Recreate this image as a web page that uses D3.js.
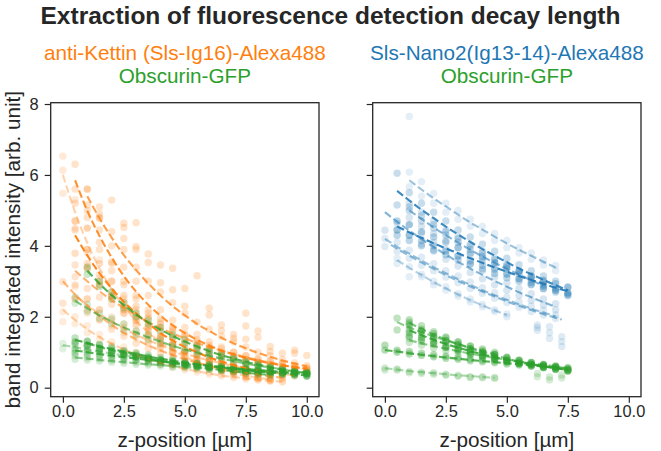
<!DOCTYPE html>
<html><head><meta charset="utf-8">
<script src="https://cdn.jsdelivr.net/npm/d3@7"></script>
<style>body{margin:0;background:#fff}svg{display:block}text{font-family:"Liberation Sans",Arial,Helvetica,sans-serif}</style>
</head><body><svg id="c" width="661" height="451"></svg>
<script>
// ---------------- DATA ----------------
const title = "Extraction of fluorescence detection decay length";
const leftTitles = ["anti-Kettin (Sls-Ig16)-Alexa488", "Obscurin-GFP"];
const rightTitles = ["Sls-Nano2(Ig13-14)-Alexa488", "Obscurin-GFP"];
const xLabel = "z-position [µm]";
const yLabel = "band integrated intensity [arb. unit]";
const xTicks = [0, 2.5, 5, 7.5, 10];
const yTicks = [0, 2, 4, 6, 8];
const zStep = 0.5;

// Left panel, anti-Kettin (orange): start z, fitted curve, bands (values every 0.5 µm)
const kettinStart = [0, 0.5, 1, 0.5, 0, 0, 0.5, 0.5];
const kettinFit = [
 [6.0,4.95,4.08,3.37,2.78,2.29,1.89,1.56,1.29,1.06,0.88,0.72,0.60,0.49,0.41,0.34,0.28,0.23],
 [5.85,4.99,4.28,3.67,3.15,2.71,2.34,2.03,1.76,1.54,1.35,1.19,1.05,0.94,0.84,0.76,0.69,0.63,0.58,0.53],
 [5.4,4.78,4.23,3.74,3.32,2.94,2.60,2.30,2.04,1.80,1.60,1.41,1.25,1.11,0.98,0.87,0.77,0.68,0.60],
 [4.3,3.73,3.23,2.8,2.42,2.1,1.82,1.54,1.33,1.15,1.0,0.85,0.74,0.64,0.55],
 [3.0,2.63,2.31,2.02,1.77,1.55,1.36,1.19,1.05,0.92,0.81,0.70,0.62,0.54,0.48,0.42,0.37,0.32,0.28],
 [2.2,1.91,1.65,1.43,1.24,1.08,0.93,0.81,0.70,0.61,0.53,0.46,0.40,0.34,0.30,0.26,0.22,0.19,0.17],
 [3.3,3.0,2.72,2.47,2.25,2.04,1.85,1.68,1.53,1.39,1.26,1.15,1.04,0.95,0.86,0.78,0.71,0.64,0.58,0.53],
 [2.6,2.33,2.08,1.86,1.67,1.49,1.34,1.20,1.07,0.96,0.86,0.77,0.69,0.61,0.55,0.49,0.44,0.39,0.35]
];
const kettinPts = [
 [[6.53,5.3,4.5,3.6,3.0,2.5,2.1,1.7,1.4,1.2,1.0,0.8,0.7,0.55,0.45,0.38,0.3,0.25],
  [6.13,4.7,3.8,3.2,2.6,2.1,1.75,1.45,1.2,0.98,0.8,0.68,0.55,0.46,0.38,0.3,0.26,0.2],
  [5.48,4.5,3.9,3.1,2.7,2.2,1.8,1.5,1.25,1.0,0.85,0.7,0.58,0.48,0.4,0.32,0.27,0.22]],
 [[6.3,5.6,4.8,4.0,3.4,3.0,2.6,2.2,1.9,1.7,1.5,1.3,1.15,1.0,0.9,0.8,0.75,0.68,0.62,0.56],
  [5.6,4.8,4.1,3.5,3.0,2.6,2.2,1.95,1.7,1.5,1.3,1.15,1.0,0.9,0.8,0.72,0.65,0.6,0.55,0.5],
  [5.2,4.5,3.9,3.3,2.9,2.5,2.1,1.85,1.6,1.4,1.25,1.1,0.95,0.85,0.78,0.7,0.62,0.57,0.52,0.48]],
 [[5.6,4.9,4.4,3.9,3.4,3.0,2.7,2.4,2.1,1.85,1.65,1.45,1.3,1.15,1.0,0.9,0.8,0.7,0.62],
  [5.15,5.1,5.29,4.52,3.98,3.77,3.46,3.37,2.8,3.16,2.24,1.77,1.5,2.1,1.6,1.16,0.97,1.06,0.91],
  [5.0,4.45,3.55,4.21,3.9,3.53,2.96,2.76,2.3,null,2.05,1.61,1.39,1.74,1.42,1.02,null,0.97,null],
  [null,4.78,null,4.64,4.65,null,null,null,null,null,null,null,null,1.37,null,null,null,null,null]],
 [[4.7,3.9,3.5,3.0,2.6,2.3,1.95,1.7,1.45,1.25,1.1,0.95,0.8,0.7,0.6],
  [4.45,3.5,3.0,2.6,2.3,2.0,1.7,1.45,1.25,1.05,0.9,0.78,0.68,0.58,0.5],
  [3.79,3.35,2.9,2.5,2.2,1.9,1.6,1.4,1.2,1.0,0.88,0.75,0.65,0.55,0.47]],
 [[2.99,2.9,2.5,2.2,1.9,1.7,1.5,1.3,1.15,1.0,0.9,0.78,0.68,0.6,0.52,0.46,0.4,0.35,0.3],
  [2.38,2.5,2.2,1.9,1.65,1.45,1.25,1.1,0.98,0.85,0.75,0.65,0.57,0.5,0.44,0.38,0.34,0.3,0.26]],
 [[2.14,2.0,1.75,1.5,1.3,1.15,1.0,0.85,0.75,0.65,0.56,0.5,0.43,0.37,0.32,0.28,0.24,0.2,0.18],
  [1.86,1.8,1.55,1.35,1.2,1.0,0.88,0.76,0.66,0.58,0.5,0.44,0.38,0.33,0.28,0.24,0.21,0.18,0.16]],
 [[3.46,3.4,2.9,2.6,2.4,2.2,2.0,1.8,1.65,1.5,1.35,1.2,1.1,1.0,0.9,0.82,0.75,0.68,0.62,0.56],
  [3.13,2.8,2.55,2.35,2.1,1.9,1.75,1.55,1.4,1.3,1.15,1.05,0.95,0.88,0.8,0.72,0.66,0.6,0.55,0.5]],
 [[2.85,2.5,2.2,2.0,1.8,1.6,1.45,1.3,1.15,1.05,0.95,0.85,0.75,0.66,0.6,0.53,0.48,0.42,0.38],
  [2.53,2.1,1.95,1.75,1.55,1.4,1.25,1.1,1.0,0.9,0.8,0.72,0.64,0.57,0.5,0.45,0.4,0.36,0.32]]
];

// Left panel, Obscurin-GFP (green)
const obscKStart = [1, 0.5, 0.5, 0, 0.5, 0.5, 1];
const obscKFit = [
 [3.3,2.94,2.61,2.33,2.07,1.84,1.64,1.46,1.30,1.16,1.03,0.92,0.82,0.73,0.65,0.58,0.51,0.46,0.41],
 [2.45,2.24,2.04,1.86,1.70,1.56,1.42,1.30,1.18,1.08,0.99,0.90,0.82,0.75,0.68,0.62,0.57,0.52,0.47,0.43],
 [1.35,1.26,1.17,1.09,1.02,0.95,0.88,0.82,0.76,0.71,0.66,0.62,0.57,0.53,0.50,0.46,0.43,0.40,0.37,0.35],
 [1.2,1.14,1.07,1.02,0.96,0.91,0.86,0.81,0.77,0.73,0.69,0.65,0.62,0.58,0.55,0.52,0.49,0.47,0.44,0.42,0.40],
 [1.05,1.0,0.95,0.9,0.86,0.82,0.78,0.74,0.70,0.67,0.64,0.61,0.58,0.55,0.52,0.50,0.47,0.45,0.43,0.41],
 [0.85,0.82,0.78,0.75,0.72,0.69,0.66,0.64,0.61,0.58,0.56,0.54,0.52,0.49,0.47,0.46,0.44,0.42,0.40,0.39],
 [1.25,1.15,1.06,0.98,0.90,0.83,0.76,0.70,0.64,0.59,0.54,0.50,0.46,0.42,0.39,0.36]
];
const obscKPts = [
 [[3.4,3.0,2.7,2.4,2.1,1.9,1.7,1.5,1.35,1.2,1.05,0.95,0.85,0.75,0.67,0.6,0.53,0.47,0.42],
  [3.2,2.85,2.5,2.25,2.0,1.8,1.6,1.42,1.25,1.12,1.0,0.9,0.8,0.7,0.63,0.56,0.5,0.45,0.4]],
 [[2.55,2.35,2.1,1.95,1.8,1.6,1.5,1.35,1.22,1.12,1.02,0.93,0.85,0.78,0.7,0.65,0.58,0.53,0.48,0.44],
  [2.38,2.15,1.95,1.8,1.62,1.5,1.36,1.25,1.14,1.04,0.95,0.87,0.8,0.72,0.66,0.6,0.55,0.5,0.46,0.42]],
 [[1.4,1.32,1.22,1.15,1.05,0.98,0.92,0.85,0.8,0.74,0.69,0.64,0.6,0.56,0.52,0.48,0.45,0.42,0.39,0.36],
  [1.3,1.2,1.12,1.04,0.97,0.9,0.84,0.78,0.73,0.68,0.63,0.59,0.55,0.51,0.48,0.44,0.41,0.38,0.36,0.33],
  [1.25,1.18,1.08,1.0,0.94,0.88,0.82,0.76,0.7,0.66,0.62,0.57,0.53,0.5,0.46,0.43,0.4,0.37,0.35,0.32]],
 [[1.25,1.2,1.1,1.05,1.0,0.95,0.9,0.85,0.8,0.76,0.72,0.68,0.64,0.6,0.57,0.54,0.51,0.48,0.46,0.43,0.41],
  [1.1,1.05,1.0,0.95,0.9,0.85,0.8,0.76,0.72,0.68,0.64,0.61,0.58,0.55,0.52,0.49,0.47,0.44,0.42,0.4,0.38]],
 [[1.1,1.05,1.0,0.95,0.9,0.86,0.82,0.78,0.74,0.7,0.67,0.64,0.6,0.57,0.55,0.52,0.5,0.47,0.45,0.43],
  [0.98,0.94,0.9,0.86,0.82,0.78,0.74,0.7,0.67,0.63,0.6,0.58,0.55,0.52,0.5,0.47,0.45,0.43,0.41,0.39]],
 [[0.9,0.85,0.82,0.78,0.75,0.72,0.69,0.66,0.63,0.6,0.58,0.56,0.53,0.51,0.49,0.47,0.45,0.43,0.41,0.4],
  [0.8,0.78,0.75,0.72,0.69,0.66,0.64,0.61,0.58,0.56,0.54,0.52,0.5,0.48,0.46,0.44,0.42,0.4,0.39,0.37]],
 [[1.3,1.2,1.1,1.02,0.93,0.86,0.79,0.73,0.67,0.62,0.57,0.52,0.48,0.44,0.41,0.38],
  [1.2,1.1,1.02,0.94,0.86,0.8,0.73,0.67,0.62,0.57,0.52,0.48,0.44,0.41,0.37,0.34]]
];

// Right panel, Sls-Nano2 (blue)
const nanoStart = [1, 0.5, 0, 0.5, 0, 0.25, 1, 0.5];
const nanoFit = [
 [5.85,5.59,5.34,5.11,4.88,4.66,4.46,4.26,4.07,3.89,3.72,3.55,3.39],
 [5.55,5.28,5.02,4.78,4.54,4.32,4.11,3.91,3.72,3.54,3.36,3.2,3.04,2.89,2.75],
 [4.95,4.68,4.43,4.19,3.97,3.75,3.55,3.36,3.18,3.01,2.85,2.69,2.55,2.41,2.28],
 [4.55,4.38,4.23,4.07,3.93,3.79,3.65,3.52,3.39,3.27,3.15,3.04,2.93,2.82,2.72],
 [4.2,3.98,3.78,3.59,3.4,3.23,3.06,2.9,2.75,2.61,2.48,2.35,2.23,2.12,2.01],
 [4.03,3.82,3.63,3.44,3.26,3.09,2.93,2.78,2.64,2.5,2.37,2.25,2.13,2.02,1.92],
 [5.0,4.76,4.52,4.3,4.09,3.89,3.7,3.52,3.35,3.19,3.03,2.88],
 [3.6,3.38,3.18,2.98,2.8,2.63,2.47,2.32,2.18,2.05]
];
const nanoPts = [
 [[6.08,5.81,5.48,5.2,5.0,4.75,4.55,4.35,4.15,3.95,3.8,3.6,3.45],
  [5.67,5.4,5.2,4.95,4.75,4.55,4.35,4.15,3.95,3.8,3.62,3.46,3.3],
  [7.65]],
 [[6.05,5.5,5.2,4.95,4.7,4.45,4.25,4.05,3.85,3.65,3.47,3.3,3.15,3.0,2.85],
  [null,5.1,4.85,4.6,4.4,4.2,4.0,3.8,3.62,3.45,3.28,3.12,2.97,2.82,2.68],
  [5.15,5.0,4.7,4.5,4.3,4.1,3.9,3.7,3.52,3.35,3.2,3.05,2.9,2.75,2.62]],
 [[4.44,4.64,4.6,4.35,4.1,3.9,3.7,3.5,3.3,3.12,2.95,2.8,2.65,2.5,2.37],
  [null,4.45,4.3,4.05,3.85,3.62,3.43,3.25,3.07,2.9,2.75,2.6,2.46,2.33,2.2]],
 [[4.7,4.6,4.4,4.25,4.1,3.95,3.8,3.65,3.52,3.4,3.28,3.15,3.03,2.93,2.82],
  [4.45,4.3,4.15,4.0,3.85,3.72,3.58,3.45,3.33,3.2,3.08,2.97,2.86,2.76,2.66],
  [4.3,4.15,4.0,3.88,3.75,3.6,3.48,3.35,3.22,3.1,3.0,2.9,2.8,2.7,2.6]],
 [[4.21,4.1,3.88,3.68,3.5,3.3,3.15,2.98,2.82,2.68,2.55,2.42,2.3,2.18,2.05],
  [3.98,3.85,3.65,3.45,3.3,3.12,2.96,2.8,2.66,2.52,2.4,2.27,2.15,2.05,1.95]],
 [[null,null,null,null,null,null,null,null,null,null,null,null,1.77,1.72,1.44],
  [null,null,null,null,null,null,null,null,null,null,null,null,1.7,1.55,1.3],
  [null,null,null,null,null,null,null,null,null,null,null,null,1.62,1.39,1.16]],
 [[5.2,4.95,4.7,4.45,4.25,4.05,3.85,3.65,3.48,3.3,3.15,3.0],
  [4.8,4.55,4.35,4.15,3.95,3.75,3.56,3.38,3.22,3.07,2.92,2.78]],
 [[3.65,3.41,3.2,3.0,2.85,2.65,2.5,2.35,2.2,2.08],
  [3.5,3.13,3.13,2.9,2.75,2.58,2.42,2.28,2.15,2.0]]
];

// Right panel, Obscurin-GFP (green)
const obscNStart = [0.5, 1, 0, 0, 1, 1, 6.25];
const obscNFit = [
 [1.85,1.70,1.57,1.45,1.33,1.23,1.13,1.04,0.96],
 [1.62,1.48,1.35,1.23,1.13,1.03,0.94,0.86,0.79,0.72,0.66,0.60,0.55,0.5],
 [1.06,1.02,0.97,0.93,0.89,0.85,0.82,0.78,0.75,0.72,0.69,0.66,0.63,0.60,0.58,0.55],
 [0.55,0.51,0.47,0.44,0.41,0.38,0.35,0.33,0.30,0.28],
 [1.83,1.66,1.5,1.36,1.23,1.11,1.0,0.91,0.82,0.74,0.67,0.61,0.55,0.5],
 [1.34,1.25,1.17,1.1,1.03,0.96,0.9,0.84,0.79,0.74,0.69,0.65,0.6],
 []
];
const obscNPts = [
 [[1.96,1.8,1.65,1.52,1.4,1.29,1.18,1.09,1.0],
  [1.63,1.63,1.5,1.39,1.28,1.18,1.09,1.0,0.93]],
 [[1.75,1.6,1.45,1.33,1.22,1.11,1.01,0.93,0.85,0.77,0.71,0.65,0.59,0.53],
  [1.55,1.42,1.3,1.19,1.09,1.0,0.91,0.83,0.76,0.69,0.64,0.58,0.53,0.48],
  [1.45,1.35,1.25,1.13,1.04,0.95,0.87,0.8,0.73,0.67,0.61,0.56,0.51,0.47]],
 [[1.2,1.06,1.02,0.97,0.93,0.89,0.85,0.81,0.78,0.75,0.72,0.69,0.66,0.63,0.6,0.57],
  [1.06,1.0,0.95,0.91,0.87,0.83,0.8,0.76,0.73,0.7,0.67,0.64,0.61,0.58,0.56,0.53]],
 [[0.56,0.53,0.46,0.44,0.42,0.38,0.35,0.31,0.31,0.29],
  [0.5,0.5,0.42,0.4,0.38,0.35,0.32,0.29,0.28,0.26]],
 [[1.92,1.75,1.58,1.43,1.29,1.17,1.05,0.95,0.86,0.78,0.7,0.64,0.58,0.52],
  [1.85,1.6,1.45,1.32,1.2,1.08,0.98,0.88,0.8,0.72,0.65,0.59,0.53,0.48]],
 [[1.4,1.3,1.22,1.14,1.06,1.0,0.93,0.87,0.81,0.76,0.71,0.66,0.62],
  [1.28,1.2,1.12,1.05,0.98,0.92,0.86,0.8,0.75,0.7,0.66,0.62,0.58]],
 [[0.4,0.3,0.36],[0.31,0.22,0.27]]
];

// ---------------- STYLE ----------------
const C = {orange:"#ff7f0e", green:"#2ca02c", blue:"#1f77b4", ink:"#262626"};
const kettinPtA = [0.16,0.22,0.22,0.24,0.2,0.15,0.2,0.15];
const kettinLnA = [0.35,0.85,0.75,0.95,0.55,0.35,0.6,0.4];
const obscKPtA = [0.25,0.2,0.3,0.15,0.3,0.2,0.25];
const obscKLnA = [0.8,0.6,0.85,0.4,0.8,0.55,0.7];
const nanoPtA = [0.12,0.25,0.18,0.3,0.15,0.15,0.18,0.12];
const nanoLnA = [0.45,0.85,0.55,0.9,0.45,0.5,0.55,0.35];
const obscNPtA = [0.3,0.4,0.35,0.2,0.3,0.25,0.2];
const obscNLnA = [0.55,0.85,0.8,0.4,0.6,0.55,0];

const svg = d3.select("#c");
const plotTop = 102.7, plotBottom = 396.7;
const y = d3.scaleLinear().domain([-0.254, 8.037]).range([plotBottom, plotTop]);

function panel(left, right, groups, showYLabels, titles, titleColors) {
  const x = d3.scaleLinear().domain([-0.5, 10.5]).range([left, right]);
  const g = svg.append("g");
  const clipId = "clip" + Math.round(left);
  svg.append("clipPath").attr("id", clipId).append("rect")
     .attr("x", left).attr("y", plotTop).attr("width", right-left).attr("height", plotBottom-plotTop);
  const plot = g.append("g").attr("clip-path", `url(#${clipId})`);
  groups.forEach(grp => {
    grp.pts.forEach((rows, s) => {
      const pts = [];
      rows.forEach(r => r.forEach((v, i) => { if (v != null) pts.push([grp.start[s] + i*zStep, v]); }));
      plot.append("g").selectAll("circle").data(pts).join("circle")
        .attr("cx", d => x(d[0])).attr("cy", d => y(d[1])).attr("r", 3.7)
        .attr("fill", grp.color).attr("fill-opacity", grp.ptA[s]);
    });
  });
  const line = d3.line().x(d => x(d[0])).y(d => y(d[1])).curve(d3.curveMonotoneX);
  groups.forEach(grp => {
    grp.fit.forEach((f, s) => {
      if (!f.length || !grp.lnA[s]) return;
      const pts = f.map((v, i) => [grp.start[s] + i*zStep, v]);
      plot.append("path").attr("d", line(pts)).attr("fill", "none")
        .attr("stroke", grp.color).attr("stroke-opacity", grp.lnA[s])
        .attr("stroke-width", 2.1).attr("stroke-dasharray", "7.6,3.3");
    });
  });
  const xa = g.append("g").attr("transform", `translate(0,${plotBottom})`)
    .call(d3.axisBottom(x).tickValues(xTicks).tickFormat(d3.format(".1f")).tickSize(6).tickPadding(3));
  const ya = g.append("g").attr("transform", `translate(${left},0)`)
    .call(d3.axisLeft(y).tickValues(yTicks).tickFormat(showYLabels ? d3.format("d") : "").tickSize(6).tickPadding(6));
  [xa, ya].forEach(a => {
    a.select(".domain").remove();
    a.selectAll("line").attr("stroke", C.ink).attr("stroke-width", 1.2);
    a.selectAll("text").attr("fill", C.ink).style("font-size", "16.4px");
  });
  g.append("rect").attr("x", left).attr("y", plotTop).attr("width", right-left).attr("height", plotBottom-plotTop)
    .attr("fill", "none").attr("stroke", C.ink).attr("stroke-width", 1.3);
  const cx = (left + right) / 2;
  g.append("text").attr("x", cx).attr("y", 446.5).attr("text-anchor", "middle")
    .attr("fill", C.ink).style("font-size", "20.7px").text(xLabel);
  titles.forEach((t, i) => {
    g.append("text").attr("x", cx).attr("y", 59.5 + i*23).attr("text-anchor", "middle")
      .attr("fill", titleColors[i]).style("font-size", "20.7px").text(t);
  });
}

panel(50.7, 319, [
  {start: kettinStart, fit: kettinFit, pts: kettinPts, color: C.orange, ptA: kettinPtA, lnA: kettinLnA},
  {start: obscKStart, fit: obscKFit, pts: obscKPts, color: C.green, ptA: obscKPtA, lnA: obscKLnA}
], true, leftTitles, [C.orange, C.green]);

panel(372.7, 641, [
  {start: nanoStart, fit: nanoFit, pts: nanoPts, color: C.blue, ptA: nanoPtA, lnA: nanoLnA},
  {start: obscNStart, fit: obscNFit, pts: obscNPts, color: C.green, ptA: obscNPtA, lnA: obscNLnA}
], false, rightTitles, [C.blue, C.green]);

svg.append("text").attr("transform", "translate(19.5,249.7) rotate(-90)").attr("text-anchor", "middle")
  .attr("fill", C.ink).style("font-size", "20.7px").text(yLabel);
svg.append("text").attr("x", 330.5).attr("y", 24).attr("text-anchor", "middle")
  .attr("fill", C.ink).style("font-size", "24.5px").style("font-weight", "bold").text(title);
</script></body></html>
